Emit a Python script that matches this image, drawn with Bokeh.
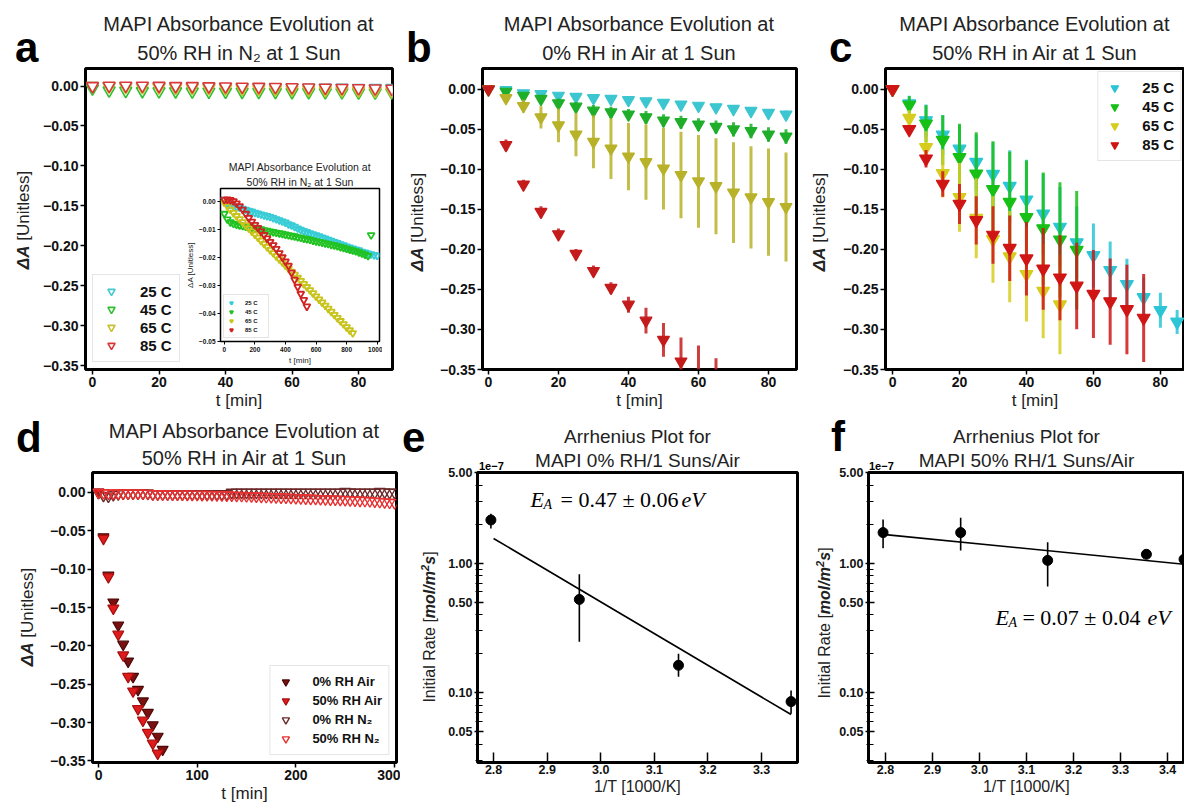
import numpy as np
from bokeh.plotting import figure
from bokeh.layouts import row, column
from bokeh.models import (ColumnDataSource, Label, Legend, LegendItem, FixedTicker, Title, Div,
                          PrintfTickFormatter, CustomJSTickFormatter)
from bokeh.embed import file_html
from bokeh.resources import INLINE

FONT = "Liberation Sans"
SERIF = "Liberation Serif"

# ------------------------------------------------------------------ data
# panel a (50% RH, N2) main
t_a = list(range(0, 95, 5))
a_25 = [0.0, -0.0005, -0.001, -0.001, -0.0012, -0.0013, -0.0014, -0.0015, -0.0016, -0.0017,
        -0.0018, -0.0019, -0.002, -0.002, -0.0021, -0.0022, -0.0023, -0.0024, -0.0025]
a_45 = [-0.003, -0.0055, -0.006, -0.0063, -0.0065, -0.0066, -0.0068, -0.007, -0.0071, -0.0072,
        -0.0073, -0.0074, -0.0075, -0.0076, -0.0077, -0.0078, -0.0079, -0.008, -0.0081]
a_65 = [0.0, -0.0005, -0.001, -0.0013, -0.0016, -0.002, -0.0023, -0.0026, -0.003, -0.0033,
        -0.0036, -0.004, -0.0043, -0.0046, -0.005, -0.0053, -0.0056, -0.006, -0.0063]
a_85 = [0.0, 0.0005, 0.0005, 0.0005, 0.0003, 0.0, 0.0, -0.0003, -0.0005, -0.0008,
        -0.001, -0.0012, -0.0015, -0.0018, -0.002, -0.0023, -0.0026, -0.003, -0.0033]

# panel a inset (long run)
in_t25 = list(range(0, 1001, 20))
in_25 = [0.0005, -0.0008, -0.0013, -0.0017, -0.0020, -0.0023, -0.0027, -0.0030, -0.0034, -0.0037,
         -0.0041, -0.0044, -0.0047, -0.0050, -0.0053, -0.0056, -0.0060, -0.0064, -0.0068, -0.0072,
         -0.0076, -0.0082, -0.0086, -0.0091, -0.0097, -0.0102, -0.0106, -0.0110, -0.0114, -0.0118,
         -0.0121, -0.0125, -0.0129, -0.0133, -0.0137, -0.0141, -0.0145, -0.0149, -0.0153, -0.0157,
         -0.0161, -0.0165, -0.0168, -0.0172, -0.0175, -0.0180, -0.0183, -0.0186, -0.0189, -0.0192, -0.0194]
in_t45 = list(range(0, 941, 20)) + [960]
in_45 = [-0.0045, -0.0065, -0.0075, -0.0080, -0.0083, -0.0086, -0.0088, -0.0090, -0.0092, -0.0094,
         -0.0096, -0.0098, -0.0100, -0.0103, -0.0105, -0.0108, -0.0110, -0.0112, -0.0114, -0.0116,
         -0.0119, -0.0121, -0.0123, -0.0125, -0.0128, -0.0130, -0.0133, -0.0135, -0.0137, -0.0140,
         -0.0143, -0.0145, -0.0147, -0.0150, -0.0152, -0.0155, -0.0157, -0.0160, -0.0163, -0.0166,
         -0.0169, -0.0172, -0.0175, -0.0178, -0.0182, -0.0186, -0.0190, -0.0195, -0.0121]
in_t65 = list(range(0, 841, 20))
in_65 = [-0.0005, -0.0018, -0.0030, -0.0042, -0.0053, -0.0064, -0.0075, -0.0086, -0.0097, -0.0108,
         -0.0119, -0.0130, -0.0141, -0.0152, -0.0163, -0.0174, -0.0185, -0.0196, -0.0207, -0.0218,
         -0.0229, -0.0240, -0.0251, -0.0262, -0.0273, -0.0284, -0.0295, -0.0306, -0.0317, -0.0328,
         -0.0339, -0.0350, -0.0361, -0.0372, -0.0383, -0.0394, -0.0405, -0.0416, -0.0427, -0.0438,
         -0.0449, -0.0460, -0.0470]
in_t85 = list(range(0, 541, 20))
in_85 = [0.0005, 0.0006, 0.0004, 0.0000, -0.0008, -0.0018, -0.0030, -0.0045, -0.0060, -0.0073,
         -0.0085, -0.0095, -0.0108, -0.0120, -0.0133, -0.0145, -0.0157, -0.0170, -0.0185, -0.0200,
         -0.0215, -0.0230, -0.0255, -0.0280, -0.0305, -0.0330, -0.0352, -0.0375]

# panel b (0% RH, air)
t_b = list(range(0, 95, 5))
b_25 = [0.0, -0.001, -0.005, -0.006, -0.008, -0.0094, -0.011, -0.012, -0.0135, -0.015,
        -0.017, -0.019, -0.0205, -0.0225, -0.0245, -0.027, -0.0295, -0.0315, -0.033]
b_25_err = [0, 0.002, 0.002, 0.002, 0.003, 0.003, 0.003, 0.003, 0.003, 0.004,
            0.004, 0.004, 0.004, 0.004, 0.004, 0.004, 0.005, 0.005, 0.005]
b_45 = [0.0, -0.003, -0.008, -0.012, -0.0175, -0.0217, -0.0266, -0.0287, -0.0315, -0.035,
        -0.039, -0.041, -0.044, -0.047, -0.05, -0.052, -0.0565, -0.059, -0.062]
b_45_err = [0, 0.003, 0.004, 0.005, 0.006, 0.006, 0.007, 0.007, 0.007, 0.008,
            0.008, 0.008, 0.008, 0.008, 0.009, 0.009, 0.009, 0.009, 0.009]
b_65 = [0.0, -0.011, -0.021, -0.035, -0.045, -0.0565, -0.0655, -0.074, -0.084, -0.091,
        -0.099, -0.107, -0.115, -0.121, -0.129, -0.135, -0.141, -0.147, -0.154]
b_65_err = [0, 0.005, 0.008, 0.014, 0.021, 0.027, 0.033, 0.038, 0.042, 0.047,
            0.051, 0.054, 0.058, 0.06, 0.063, 0.064, 0.067, 0.068, 0.07]
t_b85 = list(range(0, 70, 5))
b_85 = [0.0, -0.0696, -0.119, -0.153, -0.181, -0.2056, -0.227, -0.248, -0.269, -0.289,
        -0.313, -0.34, -0.37, -0.40]
b_85_err = [0, 0.007, 0.006, 0.007, 0.007, 0.006, 0.007, 0.007, 0.01, 0.016,
            0.021, 0.03, 0.05, 0.064]

# panel c (50% RH, air)
t_c25 = list(range(0, 90, 5))
c_25 = [0.0, -0.018, -0.039, -0.057, -0.0745, -0.091, -0.106, -0.121, -0.138, -0.1555,
        -0.172, -0.1915, -0.2075, -0.226, -0.2435, -0.26, -0.276, -0.2906]
c_25_err = [0, 0.01, 0.02, 0.025, 0.03, 0.035, 0.04, 0.045, 0.05, 0.05,
            0.05, 0.045, 0.04, 0.036, 0.032, 0.025, 0.022, 0.015]
t_c45 = list(range(0, 60, 5))
c_45 = [0.0, -0.0196, -0.043, -0.0635, -0.085, -0.1056, -0.125, -0.141, -0.16, -0.174, -0.188, -0.201]
c_45_err = [0, 0.011, 0.023, 0.031, 0.042, 0.052, 0.06, 0.063, 0.071, 0.07, 0.072, 0.074]
t_c65 = list(range(0, 55, 5))
c_65 = [0.0, -0.036, -0.0725, -0.105, -0.135, -0.161, -0.1875, -0.209, -0.231, -0.252, -0.269]
c_65_err = [0, 0.01, 0.02, 0.03, 0.043, 0.05, 0.054, 0.057, 0.059, 0.059, 0.062]
t_c85 = list(range(0, 80, 5))
c_85 = [0.0, -0.05, -0.0868, -0.1183, -0.1433, -0.1637, -0.182, -0.1985, -0.2116, -0.2243,
        -0.2354, -0.2456, -0.2558, -0.2652, -0.275, -0.2857]
c_85_err = [0, 0.005, 0.011, 0.016, 0.025, 0.03, 0.036, 0.041, 0.046, 0.051,
            0.053, 0.054, 0.055, 0.054, 0.056, 0.055]

# panel d (85 C comparison)
t_d_air0 = list(range(0, 70, 5))
d_air0 = [0.0, -0.058, -0.108, -0.143, -0.173, -0.198, -0.22, -0.24, -0.257, -0.272,
          -0.287, -0.303, -0.318, -0.335]
t_d_air50 = list(range(0, 65, 5))
d_air50 = [0.0, -0.06, -0.11, -0.151, -0.185, -0.212, -0.24, -0.259, -0.282, -0.297,
           -0.313, -0.327, -0.34]
t_d_n2 = list(range(0, 301, 5))
d_n2_0 = [0.0, -0.004, -0.005, -0.003, -0.002, -0.001, -0.001, -0.001, -0.001, -0.001, -0.001,
          -0.002, -0.002, -0.002, -0.002, -0.002, -0.002, -0.002, -0.002, -0.002, -0.002,
          -0.002, -0.002, -0.002, -0.002, -0.002, -0.002,
          0.0, 0.0, 0.0, 0.0, 0.0, 0.0, 0.0, 0.0, 0.0, 0.0, 0.0, 0.0, 0.0, 0.0, 0.0, 0.0,
          0.0, 0.0, 0.0, 0.0, 0.0, 0.0, 0.0, 0.001, 0.0005, 0.0, 0.0, 0.0, 0.0, 0.0,
          0.001, 0.0005, 0.0, 0.0]
d_n2_50 = [0.0, -0.0005, -0.001, -0.001, -0.001, -0.001, -0.001, -0.001, -0.001, -0.0012, -0.0015,
           -0.002, -0.002, -0.0022, -0.0022, -0.0024, -0.0025, -0.0025, -0.0026, -0.0027, -0.0028,
           -0.003, -0.003, -0.0032, -0.0033, -0.0035, -0.0036,
           -0.0038, -0.004, -0.0042, -0.0045, -0.0047, -0.005, -0.0052, -0.0055, -0.0057, -0.006,
           -0.0062, -0.0064, -0.0067, -0.007, -0.0072, -0.0075, -0.0078, -0.008, -0.0083, -0.0086,
           -0.0088, -0.009, -0.0093, -0.0096, -0.0099, -0.0101, -0.0104, -0.0107, -0.011, -0.0115,
           -0.012, -0.0125, -0.013, -0.0135]

# panel e / f (Arrhenius; rates in units of 1e-7 mol/m^2 s)
e_inv_t = [2.795, 2.96, 3.145, 3.355]
e_rate = [2.15, 0.525, 0.163, 0.0855]
e_rate_lo = [1.85, 0.248, 0.133, 0.069]
e_rate_hi = [2.4, 0.82, 0.2, 0.104]
e_fit_x = [2.80, 3.355]
e_fit_y = [1.55, 0.068]

f_inv_t = [2.795, 2.96, 3.145, 3.355, 3.435]
f_rate = [1.72, 1.72, 1.05, 1.17, 1.07]
f_rate_lo = [1.30, 1.25, 0.66, 1.17, 1.07]
f_rate_hi = [2.17, 2.24, 1.45, 1.17, 1.07]
f_fit_x = [2.80, 3.435]
f_fit_y = [1.66, 0.98]

temps = ["25 C", "45 C", "65 C", "85 C"]
y_ticks_lin = [0.0, -0.05, -0.10, -0.15, -0.20, -0.25, -0.30, -0.35]
log_ticks = [0.05, 0.1, 0.5, 1.0, 5.0]
log_minor = [0.03, 0.04, 0.06, 0.07, 0.08, 0.09, 0.2, 0.3, 0.4, 0.6, 0.7, 0.8, 0.9, 2, 3, 4]

# ------------------------------------------------------------------ helpers
def minus_fmt(digits=2):
    return CustomJSTickFormatter(code=f"""
        let v = Math.abs(tick) < 1e-12 ? 0 : tick;
        return v.toFixed({digits}).replace('-', '\u2212');
    """)


def make_fig(w, h, xr, yr, borders, lines, tsize, ylog=False, standoff=7):
    p = figure(width=w, height=h, x_range=xr, y_range=yr,
               y_axis_type="log" if ylog else "linear",
               output_backend="svg", toolbar_location=None,
               min_border_left=borders[0], min_border_right=borders[1],
               min_border_top=borders[2], min_border_bottom=borders[3])
    kw = dict(align="center", text_font=FONT, text_font_size=tsize,
              text_font_style="normal", text_color="#222222")
    # the first title is the outermost one; each title added later sits closer to the frame
    p.title.text = lines[0]
    for k, v in kw.items():
        setattr(p.title, k, v)
    p.title.standoff = 0 if len(lines) > 1 else standoff
    for i, ln in enumerate(lines[1:]):
        last = (i == len(lines) - 2)
        p.add_layout(Title(text=ln, standoff=standoff if last else 0, **kw), "above")
    p.grid.visible = False
    p.outline_line_color = "black"
    p.outline_line_width = 3
    p.outline_line_alpha = 1.0
    p.background_fill_color = "white"
    p.border_fill_color = "white"
    return p


def style_axes(p, tick_size, label_size, xlab, ylab, tin=False, lw=1.5):
    for ax in (p.xaxis[0], p.yaxis[0]):
        ax.axis_line_color = None
        ax.major_tick_line_color = "black"
        ax.major_tick_line_width = lw
        ax.minor_tick_line_color = None
        ax.major_label_text_font = FONT
        ax.major_label_text_font_size = tick_size
        ax.major_label_text_font_style = "bold"
        ax.major_label_text_color = "#111111"
        ax.axis_label_text_font = FONT
        ax.axis_label_text_font_size = label_size
        ax.axis_label_text_font_style = "normal"
        ax.axis_label_text_color = "#222222"
        ax.major_label_standoff = 2
        ax.axis_label_standoff = 1
        if tin:
            ax.major_tick_in = 8
            ax.major_tick_out = 0
        else:
            ax.major_tick_in = 0
            ax.major_tick_out = 5
    p.xaxis[0].axis_label = xlab
    if ylab:
        p.yaxis[0].axis_label = ylab


def add_legend(p, items, loc, fsize, glyph, lh, padding, margin, standoff):
    leg = Legend(items=items, location=loc, label_text_font=FONT, label_text_font_size=fsize,
                 label_text_font_style="bold", label_text_color="#111111",
                 glyph_width=glyph, glyph_height=lh, label_height=lh, spacing=0,
                 padding=padding, margin=margin, label_standoff=standoff,
                 border_line_color="#cccccc", border_line_width=1,
                 background_fill_color="white", background_fill_alpha=0.9)
    p.add_layout(leg)
    return leg


def err_series(p, t, v, e, color, size, lw=3, alpha=0.85, fill=True, line_color=None):
    v = np.asarray(v, float)
    e = np.asarray(e, float)
    src = ColumnDataSource(dict(t=t, v=v, lo=v - e, hi=v + e))
    p.segment(x0="t", y0="lo", x1="t", y1="hi", source=src, line_color=color,
              line_width=lw, line_alpha=alpha)
    return p.scatter("t", "v", source=src, marker="inverted_triangle", size=size,
                     fill_color=color if fill else "white", line_color=line_color or color,
                     line_width=1.2)


def overlay_text(text, left, top, size, weight="bold", w=60, h=50):
    d = Div(text=f"<span style=\"font-family:'{FONT}';font-size:{size}px;font-weight:{weight};"
                 f"line-height:1;color:#000;white-space:nowrap\">{text}</span>",
            width=w, height=h)
    d.styles = {"position": "absolute", "left": f"{left}px", "top": f"{top}px", "margin": "0",
                "padding": "0"}
    return d


def vertical_label(html, xc, yc, size, W=280, H=24):
    # rotated axis title (rich text), centred on (xc, yc) in page pixels
    d = Div(text=f"<div style=\"width:{W}px;height:{H}px;line-height:{H}px;text-align:center;"
                 f"font-family:'{FONT}';font-size:{size}px;color:#222;white-space:nowrap\">{html}</div>",
            width=W, height=H)
    d.styles = {"position": "absolute", "left": f"{xc - H / 2:.1f}px", "top": f"{yc + W / 2:.1f}px",
                "transform": "rotate(-90deg)", "transform-origin": "0 0", "margin": "0",
                "padding": "0"}
    return d

# ------------------------------------------------------------------ layout numbers
ROW1_H, ROW2_H = 412, 393
TOP1, BOT1 = 68, 38
TOP2, BOT2 = 60, 38

# ------------------------------------------------------------------ panel a
lines_a = ["MAPI Absorbance Evolution at", "50% RH in N\u2082 at 1 Sun"]
pa = make_fig(400, ROW1_H, (-2.1, 90.2), (-0.355, 0.022), (85, 8, TOP1, BOT1), lines_a, "20px",
              standoff=10)
style_axes(pa, "14px", "17px", "t [min]", None)
pa.xaxis[0].ticker = FixedTicker(ticks=[0, 20, 40, 60, 80])
pa.yaxis[0].ticker = FixedTicker(ticks=y_ticks_lin)
pa.yaxis[0].formatter = minus_fmt()
cols_a = ["#45c8d0", "#30c030", "#c8c030", "#d83838"]
ra = []
for vals, col in zip([a_25, a_45, a_65, a_85], cols_a):
    ra.append(pa.scatter(t_a, vals, marker="inverted_triangle", size=12, fill_color="white",
                         fill_alpha=1.0, line_color=col, line_width=1.6))
add_legend(pa, [LegendItem(label=l, renderers=[r]) for l, r in zip(temps, ra)],
           "bottom_left", "15px", 22, 18, 7, 7, 18)

# inset
inset = make_fig(199, 209, (-25, 1015), (-0.05, 0.0045), (37, 3, 29, 24), lines_a, "10.5px",
                 standoff=2)
inset.outline_line_width = 1.5
style_axes(inset, "6.5px", "8px", "t [min]", "\u0394A [Unitless]", lw=1)
for ax in (inset.xaxis[0], inset.yaxis[0]):
    ax.major_tick_out = 3
    ax.major_label_standoff = 2
    ax.axis_label_standoff = 1
inset.xaxis[0].ticker = FixedTicker(ticks=[0, 200, 400, 600, 800, 1000])
inset.yaxis[0].ticker = FixedTicker(ticks=[0.0, -0.01, -0.02, -0.03, -0.04, -0.05])
inset.yaxis[0].formatter = minus_fmt()
cols_in = ["#38cdd6", "#22c222", "#c8c41c", "#d02424"]
ri = []
for tt, vals, col in zip([in_t25, in_t45, in_t65, in_t85], [in_25, in_45, in_65, in_85], cols_in):
    ri.append(inset.scatter(tt, vals, marker="inverted_triangle", size=7, fill_alpha=0.0,
                            line_color=col, line_width=1.8))
add_legend(inset, [LegendItem(label=l, renderers=[r]) for l, r in zip(temps, ri)],
           "bottom_left", "6px", 8, 9, 3, 3, 10)
inset.styles = {"position": "absolute", "left": "183px", "top": "158px"}

# ------------------------------------------------------------------ panel b
lines_b = ["MAPI Absorbance Evolution at", "0% RH in Air at 1 Sun"]
pb = make_fig(400, ROW1_H, (-1.7, 88.0), (-0.35, 0.026), (82, 4, TOP1, BOT1), lines_b, "20px",
              standoff=10)
style_axes(pb, "14px", "17px", "t [min]", None)
pb.xaxis[0].ticker = FixedTicker(ticks=[0, 20, 40, 60, 80])
pb.yaxis[0].ticker = FixedTicker(ticks=y_ticks_lin)
pb.yaxis[0].formatter = minus_fmt()
cols_b = ["#3cc6cf", "#1fae2a", "#b8b22a", "#c41c1c"]
err_series(pb, t_b, b_25, b_25_err, cols_b[0], 12)
err_series(pb, t_b, b_45, b_45_err, cols_b[1], 12)
err_series(pb, t_b, b_65, b_65_err, cols_b[2], 12)
err_series(pb, t_b85, b_85, b_85_err, cols_b[3], 12)

# ------------------------------------------------------------------ panel c
lines_c = ["MAPI Absorbance Evolution at", "50% RH in Air at 1 Sun"]
pc = make_fig(384, ROW1_H, (-2.1, 87.2), (-0.35, 0.026), (85, 0, TOP1, BOT1), lines_c, "20px",
              standoff=10)
style_axes(pc, "14px", "17px", "t [min]", None)
pc.xaxis[0].ticker = FixedTicker(ticks=[0, 20, 40, 60, 80])
pc.yaxis[0].ticker = FixedTicker(ticks=y_ticks_lin)
pc.yaxis[0].formatter = minus_fmt()
cols_c = ["#2cc5d5", "#17c017", "#d6cc1e", "#d01515"]
rc = [err_series(pc, t_c25, c_25, c_25_err, cols_c[0], 13),
      err_series(pc, t_c45, c_45, c_45_err, cols_c[1], 13),
      err_series(pc, t_c65, c_65, c_65_err, cols_c[2], 13),
      err_series(pc, t_c85, c_85, c_85_err, cols_c[3], 13)]
add_legend(pc, [LegendItem(label=l, renderers=[r]) for l, r in zip(temps, rc)],
           "top_right", "15px", 20, 19, 6, 3, 18)

# ------------------------------------------------------------------ panel d
pd_ = make_fig(400, ROW2_H, (-6.1, 302.0), (-0.352, 0.026), (92, 4, TOP2, BOT2), lines_c, "20px")
style_axes(pd_, "14px", "17px", "t [min]", None)
pd_.xaxis[0].ticker = FixedTicker(ticks=[0, 100, 200, 300])
pd_.yaxis[0].ticker = FixedTicker(ticks=y_ticks_lin)
pd_.yaxis[0].formatter = minus_fmt()
rd = [pd_.scatter(t_d_air0, d_air0, marker="inverted_triangle", size=11, fill_color="#7b1010",
                  line_color="#4a0808", line_width=1.2),
      pd_.scatter(t_d_air50, d_air50, marker="inverted_triangle", size=11, fill_color="#e01b1b",
                  line_color="#a81010", line_width=1.2),
      pd_.scatter(t_d_n2, d_n2_0, marker="inverted_triangle", size=11, fill_alpha=0.0,
                  line_color="#6b2a2a", line_width=1.4),
      pd_.scatter(t_d_n2, d_n2_50, marker="inverted_triangle", size=11, fill_alpha=0.0,
                  line_color="#e83030", line_width=1.4)]
add_legend(pd_, [LegendItem(label=l, renderers=[r]) for l, r in
                 zip(["0% RH Air", "50% RH Air", "0% RH N\u2082", "50% RH N\u2082"], rd)],
           "bottom_right", "13px", 18, 19, 6, 7, 18)

# ------------------------------------------------------------------ panel e / f
def arrhenius(w, borders, xr, lines, xs, ys, lo, hi, fx, fy, xt, ex, ey, ea_text, eoff):
    p = make_fig(w, ROW2_H, xr, (0.029, 5.0), borders, lines, "19px", ylog=True, standoff=3)
    style_axes(p, "12.5px", "16px", "1/T [1000/K]", None, tin=True)
    p.xaxis[0].major_tick_in = 10
    p.yaxis[0].major_tick_in = 6
    p.yaxis[0].major_tick_out = 3
    p.yaxis[0].minor_tick_line_color = "black"
    p.yaxis[0].minor_tick_line_width = 1.2
    p.yaxis[0].minor_tick_in = 5
    p.yaxis[0].minor_tick_out = 2
    p.xaxis[0].ticker = FixedTicker(ticks=xt)
    p.xaxis[0].formatter = PrintfTickFormatter(format="%.1f")
    p.yaxis[0].ticker = FixedTicker(ticks=log_ticks, minor_ticks=log_minor)
    p.yaxis[0].formatter = PrintfTickFormatter(format="%.2f")
    src = ColumnDataSource(dict(x=xs, y=ys, lo=lo, hi=hi))
    p.line(fx, fy, line_color="black", line_width=1.6)
    p.segment(x0="x", y0="lo", x1="x", y1="hi", source=src, line_color="black", line_width=1.6)
    p.scatter("x", "y", source=src, marker="circle", size=10, fill_color="black", line_color="black")
    lab = dict(text_color="black", text_baseline="alphabetic", text_font=SERIF)
    p.add_layout(Label(x=ex, y=ey, text="E", text_font_size="22px", text_font_style="italic", **lab))
    p.add_layout(Label(x=ex, y=ey, x_offset=13, y_offset=-5, text="A", text_font_size="14px",
                       text_font_style="italic", **lab))
    p.add_layout(Label(x=ex, y=ey, x_offset=eoff[0], text=ea_text, text_font_size="22px", **lab))
    p.add_layout(Label(x=ex, y=ey, x_offset=eoff[1], text="eV", text_font_size="22px",
                       text_font_style="italic", **lab))
    return p

pe = arrhenius(400, (77, 3, TOP2, BOT2), (2.770, 3.367), ["Arrhenius Plot for", "MAPI 0% RH/1 Suns/Air"],
               e_inv_t, e_rate, e_rate_lo, e_rate_hi, e_fit_x, e_fit_y,
               [2.8, 2.9, 3.0, 3.1, 3.2, 3.3], 2.869, 3.1, "= 0.47 \u00b1 0.06", (30, 151))
pf = arrhenius(384, (68, 0, TOP2, BOT2), (2.764, 3.436), ["Arrhenius Plot for", "MAPI 50% RH/1 Suns/Air"],
               f_inv_t, f_rate, f_rate_lo, f_rate_hi, f_fit_x, f_fit_y,
               [2.8, 2.9, 3.0, 3.1, 3.2, 3.3, 3.4], 3.034, 0.38, "= 0.07 \u00b1 0.04", (27, 152))

# panel letters, offset labels and rich-text y-axis titles
DA = "<b><i>\u0394A</i></b> [Unitless]"
RATE = "Initial Rate [<b><i>mol/m<sup style=\"font-size:0.7em\">2</sup>s</i></b>]"
overlays = [overlay_text("a", 15, 27, 42), overlay_text("b", 406, 27, 42),
            overlay_text("c", 829, 27, 42), overlay_text("d", 16, 417, 42),
            overlay_text("e", 402, 417, 42), overlay_text("f", 831, 416, 42),
            overlay_text("1e\u22127", 479, 458, 11, w=40, h=14),
            overlay_text("1e\u22127", 869, 458, 11, w=40, h=14),
            vertical_label(DA, 24, 220, 17), vertical_label(DA, 418, 222, 17),
            vertical_label(DA, 820, 222, 17), vertical_label(DA, 28, 617, 17),
            vertical_label(RATE, 425, 627, 16), vertical_label(RATE, 820, 623, 16)]

grid = column(row(pa, pb, pc), row(pd_, pe, pf))
root = column(grid, inset, *overlays)
root.styles = {"position": "relative"}

open("out.html", "w").write(file_html(root, INLINE))
